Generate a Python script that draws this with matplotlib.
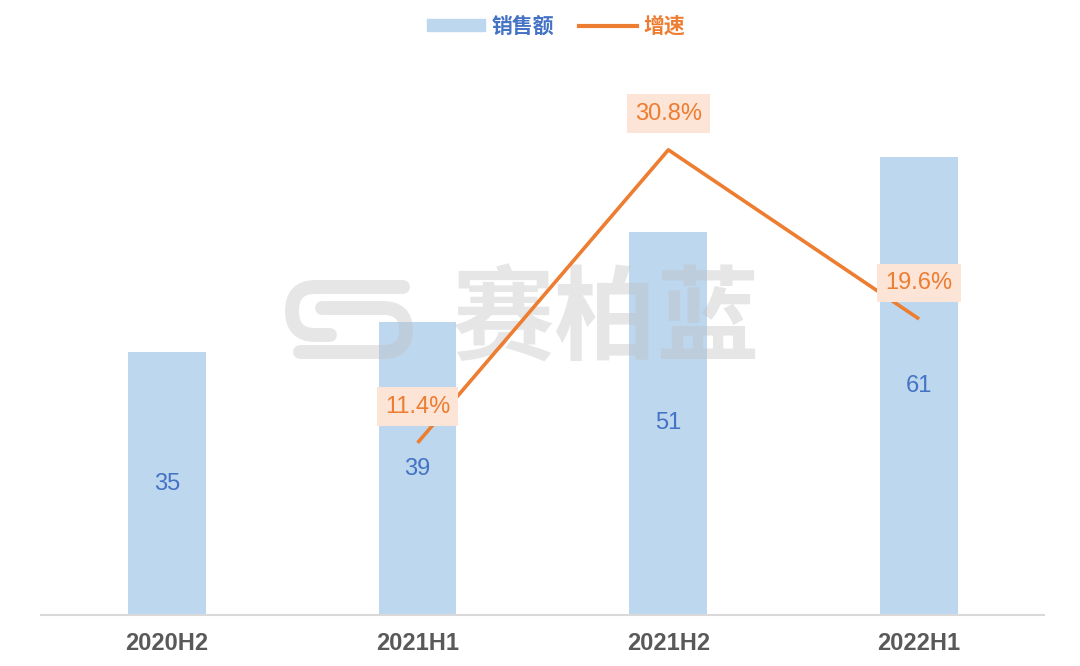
import matplotlib.pyplot as plt
from matplotlib.patches import Patch, PathPatch
from matplotlib.lines import Line2D
from matplotlib.path import Path

plt.rcParams['font.family'] = ['Liberation Sans', 'Noto Sans CJK SC', 'DejaVu Sans']

# 数据
periods = ["2020H2", "2021H1", "2021H2", "2022H1"]
sales = [35, 39, 51, 61]
growth_periods = ["2021H1", "2021H2", "2022H1"]
growth = [11.4, 30.8, 19.6]

BAR_C = "#BDD7EE"
BLUE_T = "#4472C4"
ORANGE = "#ED7D31"
WM_C = "#BFBFBF"

W, H = 1080, 666
fig = plt.figure(figsize=(W / 100, H / 100), dpi=100)
ax = fig.add_axes([0.0384, 0.0766, 0.9287, 0.8333])

x = list(range(len(periods)))
ax.bar(x, sales, width=0.31, color=BAR_C, zorder=2)
for xi, v in zip(x, sales):
    ax.text(xi, v / 2, str(v), ha="center", va="center", fontsize=17,
            color=BLUE_T, zorder=5)

ax.set_xlim(-0.5, len(periods) - 0.5)
ax.set_ylim(0, 73.9)
ax.set_xticks(x)
ax.set_xticklabels(periods, fontsize=17, fontweight="bold", color="#595959")
ax.tick_params(axis="x", length=0, pad=12)
ax.set_yticks([])
for s in ["top", "left", "right"]:
    ax.spines[s].set_visible(False)
ax.spines["bottom"].set_color("#D9D9D9")
ax.spines["bottom"].set_linewidth(1.5)

# 水印 (文字 + 简化的logo)
ax.text(1.75, 39.0, "赛柏蓝", ha="center", va="center", fontsize=74,
        fontweight="bold", family=["Noto Sans CJK SC"], color=WM_C,
        alpha=0.38, zorder=3)

def px(pts):
    return [(a / W, 1 - b / H) for a, b in pts]

C3 = Path.CURVE3
logo_a = Path(px([(403, 287), (315, 287), (292, 287), (292, 311),
                  (292, 335), (315, 335), (330, 335)]),
              [Path.MOVETO, Path.LINETO, C3, C3, C3, C3, Path.LINETO])
logo_b = Path(px([(322, 308), (383, 308), (406, 308), (406, 330),
                  (406, 352), (383, 352), (300, 352)]),
              [Path.MOVETO, Path.LINETO, C3, C3, C3, C3, Path.LINETO])
for p in (logo_a, logo_b):
    fig.add_artist(PathPatch(p, fc="none", ec=WM_C, lw=10, alpha=0.38,
                             capstyle="round", transform=fig.transFigure,
                             zorder=3))

# 增速折线
ax2 = ax.twinx()
ax2.set_ylim(0, 36.75)
ax2.set_yticks([])
for s in ax2.spines.values():
    s.set_visible(False)
gx = [periods.index(p) for p in growth_periods]
ax2.plot(gx, growth, color=ORANGE, lw=2.6, zorder=4, solid_capstyle="butt")
for xi, g in zip(gx, growth):
    ax2.annotate(f"{g}%", (xi, g), xytext=(0, 26), textcoords="offset points",
                 ha="center", va="center", fontsize=17, color=ORANGE, zorder=6,
                 bbox=dict(boxstyle="square,pad=0.35", fc="#FCE4D6", ec="none"))

# 图例
handles = [Patch(color=BAR_C), Line2D([0], [0], color=ORANGE, lw=3)]
fig.legend(handles, ["销售额", "增速"], loc="upper center",
           bbox_to_anchor=(0.515, 1.005), ncol=2, frameon=False,
           prop={"family": ["Noto Sans CJK SC"], "weight": "bold", "size": 15},
           labelcolor=[BLUE_T, ORANGE], handlelength=2.8, handleheight=0.5,
           handletextpad=0.3, columnspacing=1.2)

fig.savefig("out.png", dpi=100)
